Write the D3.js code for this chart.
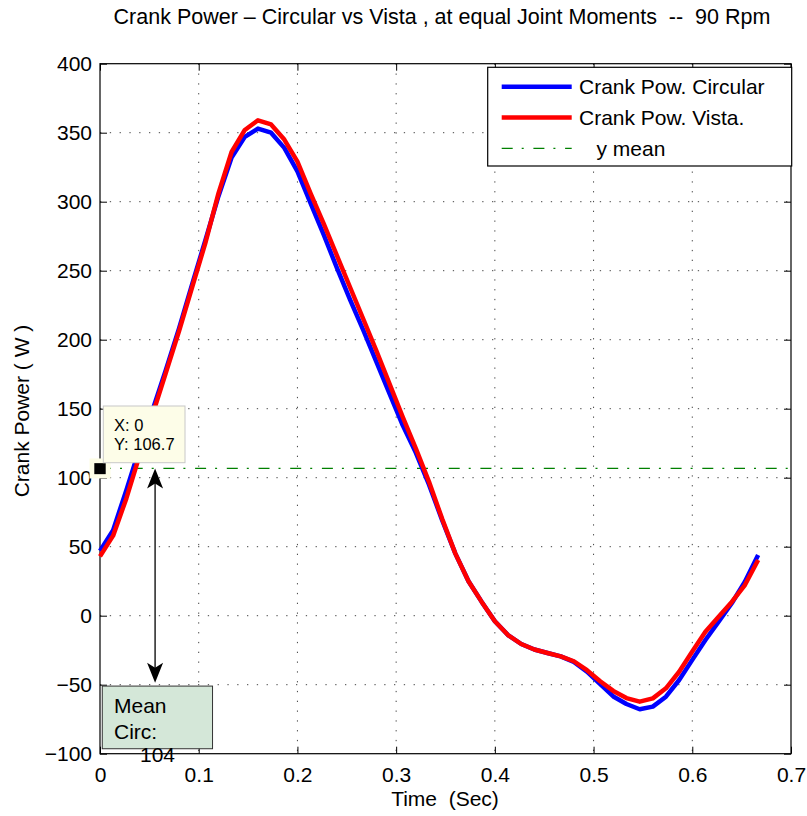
<!DOCTYPE html>
<html>
<head>
<meta charset="utf-8">
<script src="https://cdn.jsdelivr.net/npm/d3@7"></script>
<style>
  body { margin: 0; background: #fff; }
  text { font-family: "Liberation Sans", Arial, Helvetica, sans-serif; fill: #000; }
</style>
</head>
<body>
<svg id="chart" width="807" height="816"></svg>
<script>
// one crank revolution at 90 rpm, 50 steps
let time = [0, 0.0133, 0.0267, 0.04, 0.0533, 0.0667, 0.08, 0.0933, 0.1067, 0.12,
  0.1333, 0.1467, 0.16, 0.1733, 0.1867, 0.2, 0.2133, 0.2267, 0.24, 0.2533,
  0.2667, 0.28, 0.2933, 0.3067, 0.32, 0.3333, 0.3467, 0.36, 0.3733, 0.3867,
  0.4, 0.4133, 0.4267, 0.44, 0.4533, 0.4667, 0.48, 0.4933, 0.5067, 0.52,
  0.5333, 0.5467, 0.56, 0.5733, 0.5867, 0.6, 0.6133, 0.6267, 0.64, 0.6533, 0.6667];

let powCircular = [47, 62, 91, 121, 149, 178, 208, 240, 272, 304,
  332, 347, 353, 350, 339, 322, 299, 276, 252, 229,
  207, 184, 161, 138, 118, 95, 69, 45, 25, 10,
  -4, -14, -20.5, -24.5, -27, -29.5, -33.5, -40.5, -49.5, -58.5,
  -64, -67.8, -65.9, -58.7, -46.6, -32, -17.6, -4.3, 9, 24.6, 44];

let powVista = [43, 58, 85, 116, 146, 176, 206, 238, 270, 306,
  336, 352, 359, 356, 345, 329, 306, 284, 261, 238,
  215, 192, 168, 144, 121, 97, 70, 45, 25, 10,
  -4, -14, -20.5, -24.5, -27, -29.5, -33, -39.5, -47.5, -54.5,
  -59.7, -62.3, -59.9, -52.6, -40.6, -26, -11.6, -0.7, 10, 22.2, 40.4];

let yMean = 106.7;
let meanCirc = 104;
let tipX = 0;

let xTicks = [0, 0.1, 0.2, 0.3, 0.4, 0.5, 0.6, 0.7];
let yTicks = [-100, -50, 0, 50, 100, 150, 200, 250, 300, 350, 400];
let legendLabels = ["Crank Pow. Circular", "Crank Pow. Vista.", "   y mean"];
let legendColors = ["#0000ff", "#ff0000", "#008000"];

let width = 807;
let height = 816;
let plotLeft = 100, plotRight = 791, plotTop = 63.7, plotBottom = 753.7;

let svg = d3.select("#chart");

let x = d3.scaleLinear().domain([0, 0.7]).range([plotLeft, plotRight]);
let y = d3.scaleLinear().domain([-100, 400]).range([plotBottom, plotTop]);

let fmt = d => d < 0 ? "\u2212" + Math.abs(d) : String(d);

// dotted grid
let grid = svg.append("g");
grid.selectAll(".gx")
  .data(xTicks.slice(1, -1))
  .enter()
  .append("line")
  .attr("x1", d => x(d)).attr("x2", d => x(d))
  .attr("y1", plotTop).attr("y2", plotBottom);
grid.selectAll(".gy")
  .data(yTicks.slice(1, -1))
  .enter()
  .append("line")
  .attr("x1", plotLeft).attr("x2", plotRight)
  .attr("y1", d => y(d)).attr("y2", d => y(d));
grid.selectAll("line")
  .attr("stroke", "#444")
  .attr("stroke-width", 1)
  .attr("stroke-dasharray", "1.3,8.5");

// axes, ticks inside like matlab
let tick = 7;
let styleAxis = (g) => {
  g.select(".domain").remove();
  g.selectAll(".tick line").attr("stroke", "#000");
  g.selectAll(".tick text").attr("font-size", 21).attr("font-family", null);
};

svg.append("g")
  .attr("transform", `translate(0,${plotBottom})`)
  .call(d3.axisBottom(x).tickValues(xTicks).tickFormat(fmt).tickSize(-tick).tickPadding(13))
  .call(styleAxis);
svg.append("g")
  .attr("transform", `translate(0,${plotTop})`)
  .call(d3.axisTop(x).tickValues(xTicks).tickFormat("").tickSize(-tick))
  .call(styleAxis);
svg.append("g")
  .attr("transform", `translate(${plotLeft},0)`)
  .call(d3.axisLeft(y).tickValues(yTicks).tickFormat(fmt).tickSize(-tick).tickPadding(8))
  .call(styleAxis);
svg.append("g")
  .attr("transform", `translate(${plotRight},0)`)
  .call(d3.axisRight(y).tickValues(yTicks).tickFormat("").tickSize(-tick))
  .call(styleAxis);

svg.append("rect")
  .attr("x", plotLeft).attr("y", plotTop)
  .attr("width", plotRight - plotLeft).attr("height", plotBottom - plotTop)
  .attr("fill", "none")
  .attr("stroke", "#000")
  .attr("stroke-width", 1.2);

// mean line
svg.append("line")
  .attr("x1", plotLeft).attr("x2", plotRight)
  .attr("y1", y(yMean)).attr("y2", y(yMean))
  .attr("stroke", "#008000")
  .attr("stroke-width", 1.2)
  .attr("stroke-dasharray", "11,9,2,9.7");

// curves
let line = d3.line()
  .x((d, i) => x(time[i]))
  .y(d => y(d));

svg.append("path")
  .datum(powCircular)
  .attr("d", line)
  .attr("fill", "none")
  .attr("stroke", "#0000ff")
  .attr("stroke-width", 4.5)
  .attr("stroke-linejoin", "round");
svg.append("path")
  .datum(powVista)
  .attr("d", line)
  .attr("fill", "none")
  .attr("stroke", "#ff0000")
  .attr("stroke-width", 4.5)
  .attr("stroke-linejoin", "round");

// double arrow from mean line down to the text box
let arrowX = x(0.0558);
let yTop = y(yMean), yBot = y(-48.5);
svg.append("line")
  .attr("x1", arrowX).attr("x2", arrowX)
  .attr("y1", yTop + 10).attr("y2", yBot - 10)
  .attr("stroke", "#000")
  .attr("stroke-width", 1.3);
let head = (tipY, dir) => `M${arrowX},${tipY} L${arrowX - 8},${tipY + dir * 20} L${arrowX},${tipY + dir * 15} L${arrowX + 8},${tipY + dir * 20} Z`;
svg.append("path").attr("d", head(yTop, 1)).attr("fill", "#000");
svg.append("path").attr("d", head(yBot, -1)).attr("fill", "#000");

// annotation text box
let boxX0 = x(0.0023), boxX1 = x(0.114);
let boxY0 = y(-51), boxY1 = y(-96.4);
svg.append("rect")
  .attr("x", boxX0).attr("y", boxY0)
  .attr("width", boxX1 - boxX0).attr("height", boxY1 - boxY0)
  .attr("fill", "#d4e7d8")
  .attr("stroke", "#333")
  .attr("stroke-width", 1);
let note = svg.append("g").attr("font-size", 21);
note.append("text").attr("x", 114).attr("y", 713).text("Mean");
note.append("text").attr("x", 114).attr("y", 738.5).text("Circ:");
note.append("text").attr("x", 140).attr("y", 762).text(meanCirc);

// legend
let lg = svg.append("g");
lg.append("rect")
  .attr("x", 487.7).attr("y", 67.3)
  .attr("width", 304).attr("height", 98.7)
  .attr("fill", "#fff")
  .attr("stroke", "#000")
  .attr("stroke-width", 1.2);
let rows = lg.selectAll(".row")
  .data(legendLabels)
  .enter()
  .append("g")
  .attr("transform", (d, i) => `translate(0,${86.7 + i * 30.8})`);
rows.append("line")
  .attr("x1", 501.7).attr("x2", 571.7)
  .attr("stroke", (d, i) => legendColors[i])
  .attr("stroke-width", (d, i) => i < 2 ? 4.5 : 1.2)
  .attr("stroke-dasharray", (d, i) => i < 2 ? null : "11,9,2,9.7");
rows.append("text")
  .attr("x", 579)
  .attr("y", 7.5)
  .attr("font-size", 21)
  .style("white-space", "pre")
  .text(d => d);

// data tip
let tip = svg.append("g");
tip.append("rect")
  .attr("x", x(tipX) - 10.5).attr("y", y(yMean) - 10)
  .attr("width", 21).attr("height", 20)
  .attr("fill", "#fdfde6");
tip.append("rect")
  .attr("x", x(tipX) - 5.7).attr("y", y(yMean) - 5.3)
  .attr("width", 11.4).attr("height", 11)
  .attr("fill", "#000");
tip.append("rect")
  .attr("x", 103.3).attr("y", 406)
  .attr("width", 81.7).attr("height", 56.7)
  .attr("fill", "#fdfde8")
  .attr("stroke", "#c8c8c8")
  .attr("stroke-width", 1);
tip.append("text").attr("x", 114).attr("y", 430.7).attr("font-size", 16.5).text("X: " + tipX);
tip.append("text").attr("x", 114).attr("y", 450).attr("font-size", 16.5).text("Y: " + yMean);

// titles
svg.append("text")
  .attr("x", 442).attr("y", 24)
  .attr("text-anchor", "middle")
  .attr("font-size", 21.5)
  .style("white-space", "pre")
  .text("Crank Power \u2013 Circular vs Vista , at equal Joint Moments  --  90 Rpm");
svg.append("text")
  .attr("x", 445).attr("y", 806)
  .attr("text-anchor", "middle")
  .attr("font-size", 21)
  .style("white-space", "pre")
  .text("Time  (Sec)");
svg.append("text")
  .attr("transform", "translate(29,411)rotate(-90)")
  .attr("text-anchor", "middle")
  .attr("font-size", 21)
  .style("white-space", "pre")
  .text("Crank Power ( W )");
</script>
</body>
</html>
